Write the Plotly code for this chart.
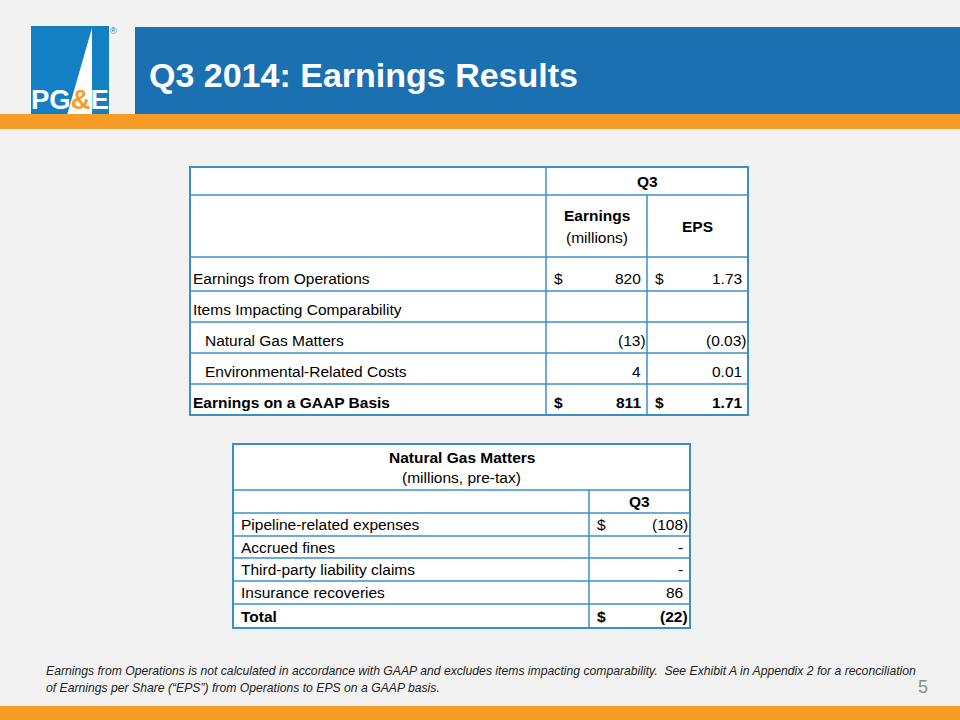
import plotly.graph_objects as go

# ---- data ----
slide_title = "Q3 2014: Earnings Results"

t1_labels = ["Earnings from Operations",
             "Items Impacting Comparability",
             "Natural Gas Matters",
             "Environmental-Related Costs",
             "Earnings on a GAAP Basis"]
t1_indent = [0, 0, 1, 1, 0]
t1_earnings = [820, None, -13, 4, 811]
t1_eps = [1.73, None, -0.03, 0.01, 1.71]
t1_dollar = [True, False, False, False, True]
t1_bold = [False, False, False, False, True]

t2_labels = ["Pipeline-related expenses",
             "Accrued fines",
             "Third-party liability claims",
             "Insurance recoveries",
             "Total"]
t2_values = [-108, 0, 0, 86, -22]
t2_dollar = [True, False, False, False, True]
t2_bold = [False, False, False, False, True]

footnote = ["Earnings from Operations is not calculated in accordance with GAAP and excludes items impacting comparability.  "
            "See Exhibit A in Appendix 2 for a reconciliation",
            "of Earnings per Share (\u201cEPS\u201d) from Operations to EPS on a GAAP basis."]
page_no = "5"

# ---- style ----
BG = "#f2f2f2"
BLUE = "#1a70b0"
LOGO = "#1380c4"
ORANGE = "#f89c28"
LINE = "#3a8fc8"
FONT = "Liberation Sans, Arial, sans-serif"
FS = 15.5
HIDE = "<span style='color:rgba(0,0,0,0)'>)</span>"


def fmt(v, dec):
    if v is None:
        return ""
    if v == 0:
        return "-" + HIDE
    s = f"{abs(v):,.{dec}f}"
    return f"({s})" if v < 0 else s + HIDE


shapes = []
ann = []


def rect(x0, y0, x1, y1, color, line=None, w=0):
    shapes.append(dict(type="rect", xref="x", yref="y", x0=x0, y0=y0, x1=x1, y1=y1,
                       fillcolor=color, line=dict(color=line or color, width=w)))


def hline(x0, x1, y, w=1.5):
    shapes.append(dict(type="line", xref="x", yref="y", x0=x0, x1=x1, y0=y, y1=y,
                       line=dict(color=LINE, width=w)))


def vline(x, y0, y1, w=1.5):
    shapes.append(dict(type="line", xref="x", yref="y", x0=x, x1=x, y0=y0, y1=y1,
                       line=dict(color=LINE, width=w)))


def text(x, y, s, anchor="left", size=FS, bold=False, color="#000", font=FONT, italic=False):
    if bold:
        s = f"<b>{s}</b>"
    if italic:
        s = f"<i>{s}</i>"
    ann.append(dict(x=x, y=y, xref="x", yref="y", text=s, showarrow=False,
                    xanchor=anchor, yanchor="middle", align=anchor if anchor != "center" else "center",
                    font=dict(family=font, size=size, color=color)))


# ---- header band ----
rect(135, 27, 960, 115, BLUE)
rect(31, 26, 109, 115, LOGO)
shapes.append(dict(type="path", xref="x", yref="y", path="M 92 28 L 67 115 L 92 115 Z",
                   fillcolor="white", line=dict(width=0)))
rect(0, 114, 960, 129, ORANGE)
rect(0, 706, 960, 720, ORANGE)
ann.append(dict(x=70, y=117, xref="x", yref="y", showarrow=False, xanchor="center", yanchor="bottom",
                text="<b>PG<span style='color:%s'>&amp;</span>E</b>" % ORANGE,
                font=dict(family=FONT, size=27.5, color="white")))
text(113, 31, "\u00ae", anchor="center", size=9, color="#1380c4")
text(147, 75, slide_title, size=34, bold=True, color="white")

# ---- table 1 ----
c0, c1, c2, c3 = 190, 546, 647, 748
r1_rows = [257, 291, 322, 353, 384, 415]
rect(c0, 167, c3, 415, "white")
hline(c0, c3, 195)
for y in r1_rows[:-1]:
    hline(c0, c3, y)
vline(c1, 167, 415)
vline(c2, 195, 415)
rect(c0, 167, c3, 415, "rgba(0,0,0,0)", line=LINE, w=2)

text((c1 + c3) / 2, 181, "Q3", anchor="center", bold=True)
text((c1 + c2) / 2, 215, "Earnings", anchor="center", bold=True)
text((c1 + c2) / 2, 237, "(millions)", anchor="center")
text((c2 + c3) / 2, 226, "EPS", anchor="center", bold=True)

for i, lab in enumerate(t1_labels):
    y = r1_rows[i + 1] - 13
    b = t1_bold[i]
    text(c0 + 1 + 12 * t1_indent[i], y, lab, bold=b)
    if t1_dollar[i]:
        text(c1 + 6, y, "$", bold=b)
        text(c2 + 6, y, "$", bold=b)
    text(c2 + 1, y, fmt(t1_earnings[i], 0), anchor="right", bold=b)
    text(c3 + 1, y, fmt(t1_eps[i], 2), anchor="right", bold=b)

# ---- table 2 ----
d0, d1, d2 = 233, 589, 690
r2_rows = [490, 513, 536, 558, 581, 604, 628]
rect(d0, 444, d2, 628, "white")
for y in r2_rows[:-1]:
    hline(d0, d2, y)
vline(d1, 490, 628)
rect(d0, 444, d2, 628, "rgba(0,0,0,0)", line=LINE, w=2)

text((d0 + d2) / 2, 457, "Natural Gas Matters", anchor="center", bold=True)
text((d0 + d2) / 2, 477, "(millions, pre-tax)", anchor="center")
text((d1 + d2) / 2, 501, "Q3", anchor="center", bold=True)
for i, lab in enumerate(t2_labels):
    y = (r2_rows[i + 1] + r2_rows[i + 2]) / 2
    b = t2_bold[i]
    text(d0 + 6, y, lab, bold=b)
    if t2_dollar[i]:
        text(d1 + 6, y, "$", bold=b)
    text(d2 + 0, y, fmt(t2_values[i], 0), anchor="right", bold=b)

# ---- footnote ----
text(44, 671, footnote[0], size=12.2, italic=True, color="#222")
text(44, 688, footnote[1], size=12.2, italic=True, color="#222")
text(923, 687, page_no, anchor="center", size=18, color="#8c8c8c")

fig = go.Figure(go.Scatter(x=[], y=[]))
fig.update_layout(
    width=960, height=720,
    margin=dict(l=0, r=0, t=0, b=0),
    paper_bgcolor=BG, plot_bgcolor=BG,
    xaxis=dict(range=[0, 960], visible=False, fixedrange=True),
    yaxis=dict(range=[720, 0], visible=False, fixedrange=True),
    shapes=shapes, annotations=ann, showlegend=False,
)
fig.write_html("out.html", config={"displayModeBar": False},
               post_script="document.body.style.margin='0';document.body.style.overflow='hidden';")
